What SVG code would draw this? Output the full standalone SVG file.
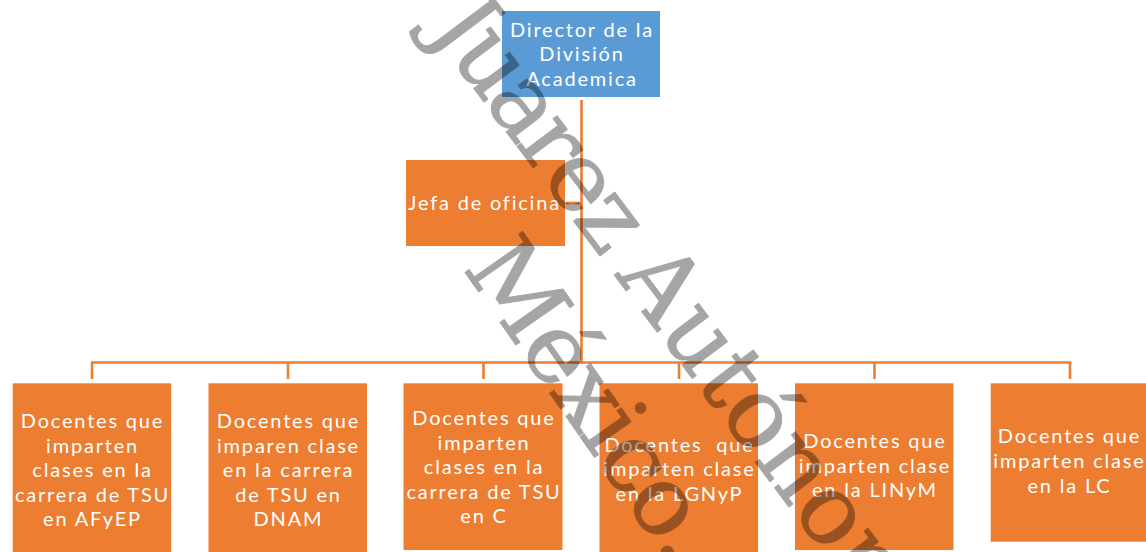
<svg xmlns="http://www.w3.org/2000/svg" width="1146" height="552" viewBox="0 0 1146 552">
<style>
.org{fill:#ED7D31}
.blue{fill:#5B9BD5}
.t{font-family:Lato,"Open Sans","Liberation Sans",sans-serif;font-size:20px;fill:#ffffff;text-anchor:middle;letter-spacing:1.8px}
.c{stroke:#ED7D31;stroke-width:2.6;fill:none}
.wm{font-family:"DejaVu Serif","Liberation Serif",serif;font-size:97px;fill:#000000;stroke:#000000;stroke-width:1;stroke-linejoin:round}
</style>
<rect width="1146" height="552" fill="#ffffff"/>
<g id="connectors">
<line class="c" x1="581.5" y1="100" x2="581.5" y2="363.5"/>
<line class="c" x1="566" y1="203" x2="581.5" y2="203"/>
<line class="c" x1="91" y1="362.5" x2="1071.5" y2="362.5"/>
<line class="c" x1="92" y1="362.5" x2="92" y2="379"/>
<line class="c" x1="288" y1="362.5" x2="288" y2="379"/>
<line class="c" x1="483.5" y1="362.5" x2="483.5" y2="379"/>
<line class="c" x1="679" y1="362.5" x2="679" y2="379"/>
<line class="c" x1="874.5" y1="362.5" x2="874.5" y2="379"/>
<line class="c" x1="1070" y1="362.5" x2="1070" y2="379"/>
</g>
<g id="director">
<rect class="blue" x="502" y="11" width="158" height="86"/>
<text class="t" x="582" y="36.5">Director de la</text>
<text class="t" x="582" y="61">División</text>
<text class="t" x="582" y="85.5">Academica</text>
</g>
<g id="jefa">
<rect class="org" x="406" y="160" width="159" height="86"/>
<text class="t" x="484.5" y="210">Jefa de oficina</text>
</g>
<g id="afyep">
<rect class="org" x="12.7" y="383.3" width="158.5" height="170"/>
<text class="t" x="92.5" y="428.3">Docentes que</text>
<text class="t" x="92.5" y="452.8">imparten</text>
<text class="t" x="92.5" y="477.3">clases en la</text>
<text class="t" x="92.5" y="501.8">carrera de TSU</text>
<text class="t" x="92.5" y="526.3">en AFyEP</text>
</g>
<g id="dnam">
<rect class="org" x="208.5" y="383.3" width="158.5" height="170"/>
<text class="t" x="288.5" y="428.3">Docentes que</text>
<text class="t" x="288.5" y="452.8">imparen clase</text>
<text class="t" x="288.5" y="477.3">en la carrera</text>
<text class="t" x="288.5" y="501.8">de TSU en</text>
<text class="t" x="288.5" y="526.3">DNAM</text>
</g>
<g id="tsuc">
<rect class="org" x="403.5" y="383.3" width="159" height="166.7"/>
<text class="t" x="484" y="425">Docentes que</text>
<text class="t" x="484" y="449.5">imparten</text>
<text class="t" x="484" y="474">clases en la</text>
<text class="t" x="484" y="498.5">carrera de TSU</text>
<text class="t" x="484" y="523">en C</text>
</g>
<g id="lgnyp">
<rect class="org" x="599.5" y="383.3" width="158.5" height="170"/>
<text class="t" x="679.5" y="451.7" xml:space="preserve">Docentes  que</text>
<text class="t" x="679.5" y="476.2">imparten clase</text>
<text class="t" x="679.5" y="500.7">en la LGNyP</text>
</g>
<g id="linym">
<rect class="org" x="795" y="383.3" width="158.5" height="166.7"/>
<text class="t" x="875" y="448.3">Docentes que</text>
<text class="t" x="875" y="472.8">imparten clase</text>
<text class="t" x="875" y="497.3">en la LINyM</text>
</g>
<g id="lc">
<rect class="org" x="990.7" y="383.3" width="158.5" height="158.4"/>
<text class="t" x="1069.5" y="443.3">Docentes que</text>
<text class="t" x="1069.5" y="467.8">imparten clase</text>
<text class="t" x="1069.5" y="492.8">en la LC</text>
</g>
<g id="watermark" opacity="0.35">
<text class="wm" transform="rotate(53)" x="280" y="-325"><tspan letter-spacing="-5">Juarez </tspan>Autónoma</text>
<text class="wm" transform="translate(462,268) rotate(55)" x="0" y="0" letter-spacing="-3">México.</text>
</g>
</svg>
